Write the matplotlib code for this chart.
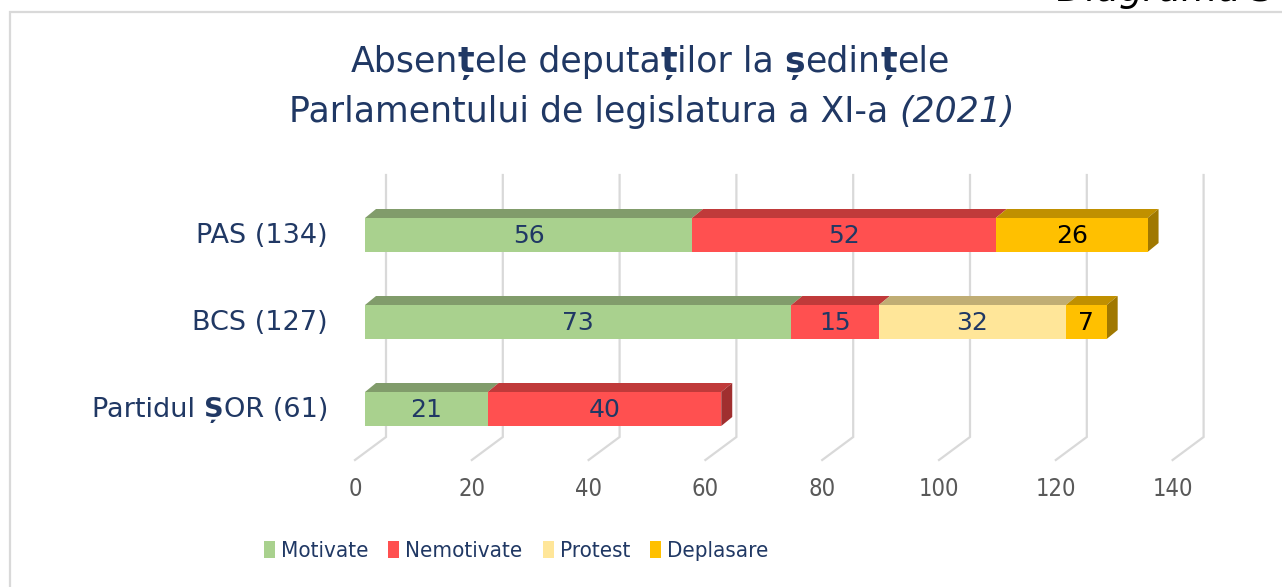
import matplotlib
matplotlib.use("Agg")
import matplotlib.pyplot as plt
from matplotlib import font_manager
from matplotlib.patches import Polygon, Patch, Rectangle
from matplotlib.transforms import offset_copy

# ---------- data ----------
categories = ["PAS (134)", "BCS (127)", "Partidul ȘOR (61)"]
series_names = ["Motivate", "Nemotivate", "Protest", "Deplasare"]
motivate = [56, 73, 21]
nemotivate = [52, 15, 40]
protest = [0, 32, 0]
deplasare = [26, 7, 0]
x_ticks = [0, 20, 40, 60, 80, 100, 120, 140]
title_1 = "Absențele deputaților la ședințele"
title_2 = "Parlamentului de legislatura a XI-a "
title_2_year = "(2021)"

# ---------- style ----------
front_col = ["#A9D18E", "#FF5050", "#FFE699", "#FFC000"]
top_col = ["#819C6B", "#C03A3A", "#C0AD74", "#C09000"]
side_col = ["#6B8559", "#A02F2F", "#A08F5F", "#A07800"]
label_col = ["#203864", "#203864", "#203864", "#000000"]
NAVY = "#203864"
GRID = "#D9D9D9"

fl = font_manager.fontManager.ttflist
HAS_COND = any(f.name == "DejaVu Sans" and f.stretch == "condensed" for f in fl)
FAM = ["DejaVu Sans"]
COND = {"fontstretch": "condensed"} if HAS_COND else {}
LEG_SIZE = 16 if HAS_COND else 14

W, H = 1282, 587
fig = plt.figure(figsize=(W / 100, H / 100), dpi=100)
renderer = fig.canvas.get_renderer()

# axes: value 0 at px 365, 140 at px ~1183 ; rows every 87 px
PXX = 817.6 / 140
PXY = 87.0
ax = fig.add_axes([365 / W, 117 / H, 817.6 / W, 320 / H])
ax.set_xlim(0, 140)
ax.set_ylim(2 + 61 / PXY, -85 / PXY)
ax.axis("off")

DX = 11 / PXX      # bar depth in x
DY = 9 / PXY       # bar depth in y
BAR_H = 34 / PXY


def text_w(s, **kw):
    t1 = fig.text(0, 0, "|" + s + "|", **kw)
    t2 = fig.text(0, 0, "||", **kw)
    w = t1.get_window_extent(renderer).width - t2.get_window_extent(renderer).width
    t1.remove(); t2.remove()
    return w


def rich(base, x, y, pieces, ha="left", **kw):
    ws = [text_w(s, **{**kw, **st}) for s, st in pieces]
    total = sum(ws)
    off = {"left": 0, "center": -total / 2, "right": -total}[ha]
    for (s, st), w in zip(pieces, ws):
        tr = offset_copy(base, fig=fig, x=off, y=0, units="dots")
        fig.text(x, y, s, transform=tr, ha="left", va="baseline", **{**kw, **st})
        off += w


def split_bold(s, bold_chars="șțȘȚ"):
    out, cur = [], ""
    for ch in s:
        if ch in bold_chars:
            if cur:
                out.append((cur, {}))
                cur = ""
            out.append((ch, {"fontweight": "bold"}))
        else:
            cur += ch
    if cur:
        out.append((cur, {}))
    return out


# gridlines (3D floor/back wall style)
for v in x_ticks:
    bx = v + 21 / PXX
    fx = v - 10 / PXX
    ax.plot([bx, bx, fx], [-60 / PXY, 2 + 28 / PXY, 2 + 51 / PXY], color=GRID,
            lw=1.6, zorder=1, clip_on=False, solid_joinstyle="miter")
    ax.text(fx, 2 + 80 / PXY, str(v), ha="center", va="center", color="#595959",
            fontsize=17, family=FAM, clip_on=False, **COND)

# stacked 3D bars
data = [motivate, nemotivate, protest, deplasare]
for i in range(len(categories)):
    left = 0
    top = i - BAR_H / 2
    bot = i + BAR_H / 2
    last = 0
    for k, vals in enumerate(data):
        if vals[i]:
            last = k
    for k, vals in enumerate(data):
        v = vals[i]
        if v == 0:
            continue
        ax.barh(i, v, left=left, height=BAR_H, color=front_col[k], zorder=3, lw=0)
        ax.add_patch(Polygon([(left, top), (left + v, top), (left + v + DX, top - DY),
                              (left + DX, top - DY)], closed=True, color=top_col[k],
                             lw=0, zorder=2 + k * 0.01))
        if k == last:
            ax.add_patch(Polygon([(left + v, top), (left + v + DX, top - DY),
                                  (left + v + DX, bot - DY), (left + v, bot)],
                                 closed=True, color=side_col[k], lw=0, zorder=2.5))
        ax.text(left + v / 2, i + 0.01, str(v), ha="center", va="center",
                color=label_col[k], fontsize=18, family=FAM, zorder=5)
        left += v

# category labels
for i, c in enumerate(categories):
    rich(ax.transData, -37 / PXX, i + 8 / PXY, split_bold(c), ha="right",
         fontsize=19.5, family=FAM, color=NAVY)

# title
rich(fig.transFigure, 650 / W, 1 - 72 / H, split_bold(title_1), ha="center",
     fontsize=25, family=FAM, color=NAVY)
rich(fig.transFigure, 652 / W, 1 - 122 / H,
     [(title_2, {}), (title_2_year, {"fontstyle": "italic"})], ha="center",
     fontsize=25, family=FAM, color=NAVY)

# legend
handles = [Patch(facecolor=c, edgecolor="none") for c in front_col]
leg_prop = {"family": FAM, "size": LEG_SIZE}
if HAS_COND:
    leg_prop["stretch"] = "condensed"
fig.legend(handles, series_names, loc="center", bbox_to_anchor=(516 / W, 1 - 551 / H),
           ncol=4, frameon=False, prop=leg_prop, labelcolor=NAVY,
           handlelength=0.5, handleheight=0.82, handletextpad=0.27, columnspacing=0.9)

# outer frame and cut caption
fig.patches.append(Rectangle((10 / W, -0.2), 1.5, 1.2 - 12 / H, transform=fig.transFigure,
                             fill=False, edgecolor=GRID, lw=1.6))
fig.text(1057 / W, 1 - 1 / H, "Diagrama 3", ha="left", va="baseline", fontsize=27,
         family=FAM, fontstyle="italic", color="black")

fig.savefig("out.png", dpi=100)
